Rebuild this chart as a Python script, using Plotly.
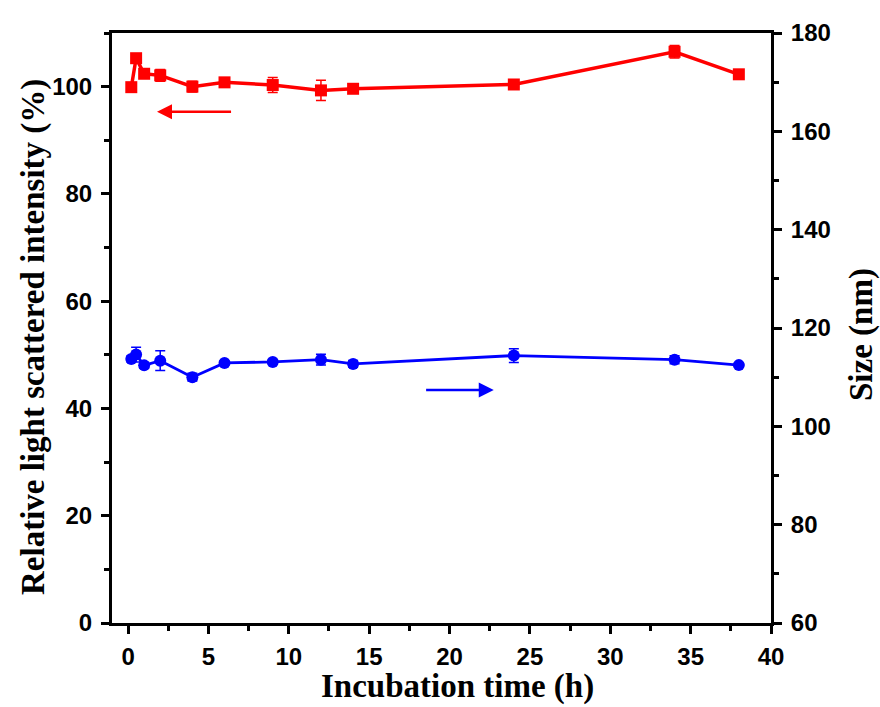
import plotly.graph_objects as go

time_h = [0.2, 0.5, 1, 2, 4, 6, 9, 12, 14, 24, 34, 38]
intensity = [99.9, 105.3, 102.4, 102.1, 100.0, 100.8, 100.3, 99.3, 99.6, 100.4, 106.5, 102.3]
intensity_err = [0.3, 0.6, 0.5, 1.1, 1.0, 0.5, 1.4, 1.9, 0.5, 0.6, 1.15, 0.4]
size_nm = [113.7, 114.6, 112.4, 113.35, 110.0, 112.9, 113.1, 113.55, 112.7, 114.4, 113.55, 112.45]
size_err = [0.6, 1.5, 0.6, 2.0, 0.8, 0.4, 0.5, 1.1, 0.7, 1.4, 0.8, 0.4]

x_ticks = [0, 5, 10, 15, 20, 25, 30, 35, 40]
y_ticks = [0, 20, 40, 60, 80, 100]
y2_ticks = [60, 80, 100, 120, 140, 160, 180]

RED = "#FF0000"
BLUE = "#0000FF"

fig = go.Figure()
fig.add_trace(go.Scatter(
    x=time_h, y=intensity, mode="lines+markers",
    line=dict(color=RED, width=3.5),
    marker=dict(symbol="square", size=12, color=RED),
    error_y=dict(type="data", array=intensity_err, color=RED, thickness=1.5, width=5),
    yaxis="y", showlegend=False))
fig.add_trace(go.Scatter(
    x=time_h, y=size_nm, mode="lines+markers",
    line=dict(color=BLUE, width=2.8),
    marker=dict(symbol="circle", size=12, color=BLUE),
    error_y=dict(type="data", array=size_err, color=BLUE, thickness=1.5, width=5),
    yaxis="y2", showlegend=False))

tickfont = dict(family="Liberation Sans, Arial", size=24, color="black")
titlefont = dict(family="Liberation Serif, Times New Roman", size=33, color="black")

def bold(vals):
    return ["<b>%d</b>" % v for v in vals]

fig.update_layout(
    width=880, height=707,
    margin=dict(l=112, r=109, t=33, b=84),
    plot_bgcolor="white", paper_bgcolor="white",
    xaxis=dict(
        range=[-1, 40], tickmode="array", tickvals=x_ticks, ticktext=bold(x_ticks),
        ticks="outside", ticklen=8, tickwidth=3, tickcolor="black",
        minor=dict(dtick=2.5, tick0=0, ticks="outside", ticklen=5, tickwidth=2.5, tickcolor="black"),
        showline=True, linewidth=3, linecolor="black", mirror=True,
        showgrid=False, zeroline=False,
        tickfont=tickfont, ticklabelstandoff=2,
    ),
    yaxis=dict(
        range=[0, 110], tickmode="array", tickvals=y_ticks, ticktext=bold(y_ticks),
        ticks="outside", ticklen=8, tickwidth=3, tickcolor="black",
        minor=dict(tickvals=[10, 30, 50, 70, 90, 110], ticks="outside", ticklen=5, tickwidth=2.5, tickcolor="black"),
        showline=True, linewidth=3, linecolor="black",
        showgrid=False, zeroline=False,
        tickfont=tickfont, ticklabelstandoff=4,
    ),
    yaxis2=dict(
        range=[60, 180], overlaying="y", side="right",
        tickmode="array", tickvals=y2_ticks, ticktext=bold(y2_ticks),
        ticks="outside", ticklen=8, tickwidth=3, tickcolor="black",
        minor=dict(tickvals=[70, 90, 110, 130, 150, 170], ticks="outside", ticklen=5, tickwidth=2.5, tickcolor="black"),
        showline=True, linewidth=3, linecolor="black",
        showgrid=False, zeroline=False,
        tickfont=tickfont, ticklabelstandoff=4,
    ),
)

# axis titles
fig.add_annotation(text="<b>Incubation time (h)</b>", xref="paper", yref="paper",
                   x=(457 - 112) / (771 - 112), y=(623 - 686) / 590.0,
                   showarrow=False, font=titlefont, xanchor="center", yanchor="middle")
fig.add_annotation(text="<b>Relative light scattered intensity (%)</b>", xref="paper", yref="paper",
                   x=(33 - 112) / (771 - 112), y=(623 - 337) / 590.0, textangle=-90,
                   showarrow=False, font=titlefont, xanchor="center", yanchor="middle")
fig.add_annotation(text="<b>Size (nm)</b>", xref="paper", yref="paper",
                   x=(862 - 112) / (771 - 112), y=(623 - 335) / 590.0, textangle=-90,
                   showarrow=False, font=titlefont, xanchor="center", yanchor="middle")

# direction arrows
red_arrow = dict(head=(1.8, 95.3), tail=(6.5, 95.3))
blue_arrow = dict(head=(22.75, 107.4), tail=(18.45, 107.4))

fig.add_annotation(x=red_arrow["head"][0], y=red_arrow["head"][1], xref="x", yref="y",
                   ax=red_arrow["tail"][0], ay=red_arrow["tail"][1], axref="x", ayref="y",
                   showarrow=True, arrowhead=2, arrowsize=1.2, arrowwidth=2.5, arrowcolor=RED, text="")
fig.add_annotation(x=blue_arrow["head"][0], y=blue_arrow["head"][1], xref="x", yref="y2",
                   ax=blue_arrow["tail"][0], ay=blue_arrow["tail"][1], axref="x", ayref="y2",
                   showarrow=True, arrowhead=2, arrowsize=1.2, arrowwidth=2.5, arrowcolor=BLUE, text="")

fig.write_html("out.html")
